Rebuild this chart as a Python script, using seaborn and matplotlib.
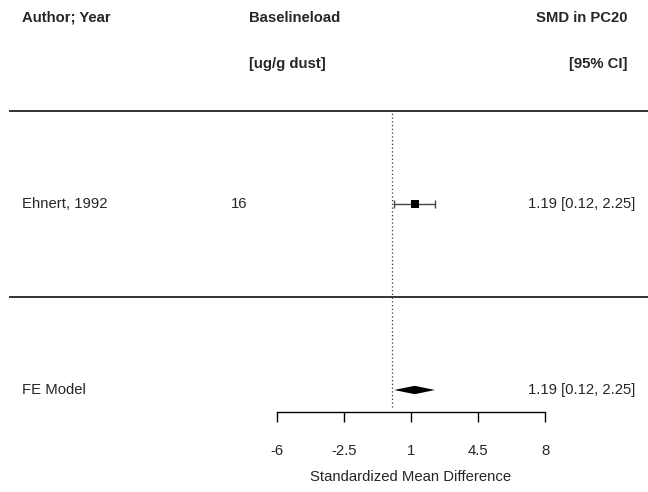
import matplotlib
matplotlib.use("Agg")
import matplotlib.pyplot as plt
import seaborn as sns
import numpy as np
import pandas as pd

# ---- data ----
studies = ["Ehnert, 1992"]
baseline_load = ["16"]
smd = [1.19]
ci_low = [0.12]
ci_high = [2.25]
fe_est = 1.19
fe_low = 0.12
fe_high = 2.25
xticks = [-6, -2.5, 1, 4.5, 8]
xtick_labels = ["-6", "-2.5", "1", "4.5", "8"]
header_left = "Author; Year"
header_mid = ["Baselineload", "[ug/g dust]"]
header_right = ["SMD in PC20", "[95% CI]"]
summary_label = "FE Model"
xlabel = "Standardized Mean Difference"

sns.set_theme(style="white")
plt.rcParams['font.family'] = ['Liberation Sans', 'DejaVu Sans']
FS = 10.7

fig = plt.figure(figsize=(6.48, 4.92), dpi=100)
ax = fig.add_axes([0, 0, 1, 1])

# coordinate frame: x in SMD units, y in row units
px_per_unit = 268 / 14.0
x0px = 277 + 6 * px_per_unit
xmin = (0 - x0px) / px_per_unit
xmax = (648 - x0px) / px_per_unit
row_px = 93.0
ax.set_xlim(xmin, xmax)
ax.set_ylim((297 - 492) / row_px, 297 / row_px)

def px2x(p):
    return (p - x0px) / px_per_unit

left_x = px2x(9)
right_x = px2x(648)
text_left = px2x(22)
text_right = px2x(635)
head_right = px2x(628)
mid_x = px2x(249)
ilab_x = px2x(239)

k = len(studies)
rows = np.arange(k, 0, -1).astype(float)
df = pd.DataFrame({"study": studies, "est": smd, "lo": ci_low, "hi": ci_high, "row": rows})

# horizontal separators
ax.hlines([k + 1, 0], left_x, right_x, color="#111111", lw=1.2)

# reference line
ax.plot([0, 0], [(297 - 407) / row_px, k + 1], color="#333333", lw=0.9, ls=(0, (1, 2.0)))

# CIs
ax.errorbar(df["est"], df["row"], xerr=[df["est"] - df["lo"], df["hi"] - df["est"]],
            fmt="none", ecolor="#444444", elinewidth=1.0, capsize=2.8, capthick=1.0)
sns.scatterplot(data=df, x="est", y="row", marker="s", s=32, color="black",
                edgecolor="black", linewidth=0, ax=ax, zorder=5, legend=False)

# summary diamond
h = 4.2 / row_px
ax.fill([fe_low, fe_est, fe_high, fe_est], [-1, -1 + h, -1, -1 - h], color="black", lw=0)

# texts
for _, r in df.iterrows():
    ax.text(text_left, r["row"], r["study"], ha="left", va="center", fontsize=FS)
    ax.text(text_right, r["row"], f"{r['est']:.2f} [{r['lo']:.2f}, {r['hi']:.2f}]",
            ha="right", va="center", fontsize=FS)
for b, r in zip(baseline_load, rows):
    ax.text(ilab_x, r, b, ha="center", va="center", fontsize=FS)
ax.text(text_left, -1, summary_label, ha="left", va="center", fontsize=FS)
ax.text(text_right, -1, f"{fe_est:.2f} [{fe_low:.2f}, {fe_high:.2f}]",
        ha="right", va="center", fontsize=FS)

hy1 = (297 - 18) / row_px
hy2 = (297 - 64) / row_px
ax.text(text_left, hy1, header_left, ha="left", va="center", fontsize=FS, fontweight="bold")
ax.text(mid_x, hy1, header_mid[0], ha="left", va="center", fontsize=FS, fontweight="bold")
ax.text(mid_x, hy2, header_mid[1], ha="left", va="center", fontsize=FS, fontweight="bold")
ax.text(head_right, hy1, header_right[0], ha="right", va="center", fontsize=FS, fontweight="bold")
ax.text(head_right, hy2, header_right[1], ha="right", va="center", fontsize=FS, fontweight="bold")

# x axis
for s in ["top", "right", "left"]:
    ax.spines[s].set_visible(False)
ax.spines["bottom"].set_visible(True)
ax.spines["bottom"].set_color("black")
ax.spines["bottom"].set_linewidth(1.0)
ax.spines["bottom"].set_position(("data", (297 - 412) / row_px))
ax.spines["bottom"].set_bounds(xticks[0], xticks[-1])
ax.set_xticks(xticks)
ax.set_xticklabels(xtick_labels, fontsize=FS)
ax.tick_params(axis="x", direction="out", length=7.5, width=1.0, color="black",
               pad=15.5, bottom=True, labelsize=FS)
ax.set_yticks([])
label_center = (xticks[0] + xticks[-1]) / 2.0
ax.set_xlabel(xlabel, fontsize=FS, labelpad=9,
              x=(label_center - xmin) / (xmax - xmin))
ax.set_ylabel("")
ax.patch.set_visible(False)

fig.savefig("out.png", dpi=100)
